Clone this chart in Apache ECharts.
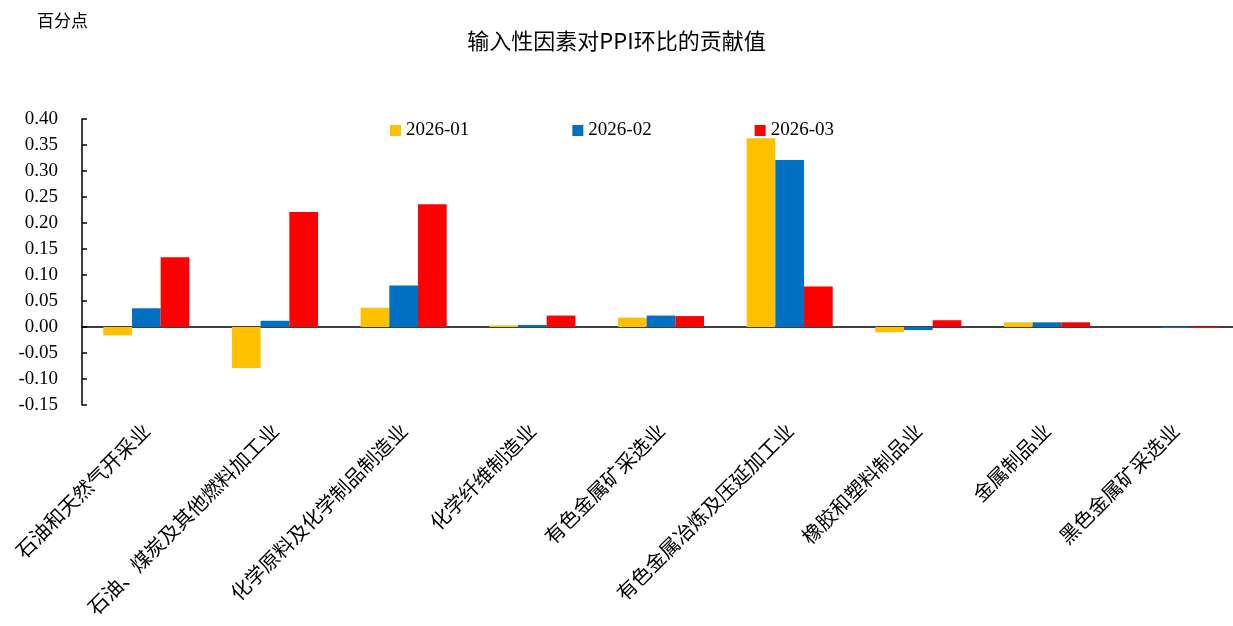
<!DOCTYPE html>
<html>
<head>
<meta charset="utf-8">
<script src="https://cdn.jsdelivr.net/npm/echarts@6/dist/echarts.min.js"></script>
<style>
  html, body { margin: 0; padding: 0; background: #fff; }
  #chart { width: 1233px; height: 626px; }
</style>
</head>
<body>
<div id="chart"></div>
<script>
const categories = ['石油和天然气开采业', '石油、煤炭及其他燃料加工业', '化学原料及化学制品制造业', '化学纤维制造业',
  '有色金属矿采选业', '有色金属冶炼及压延加工业', '橡胶和塑料制品业', '金属制品业', '黑色金属矿采选业'];
const jan = [-0.016, -0.079, 0.037, 0.003, 0.018, 0.363, -0.010, 0.009, 0.000];
const feb = [0.036, 0.012, 0.080, 0.004, 0.022, 0.321, -0.006, 0.009, -0.002];
const mar = [0.134, 0.221, 0.236, 0.022, 0.021, 0.078, 0.013, 0.009, -0.002];
const seriesNames = ['2026-01', '2026-02', '2026-03'];
const colors = ['#FFC000', '#0070C0', '#FF0000'];

const serif = '"Liberation Serif", "Times New Roman", serif';
const cjk = '"Noto Sans CJK SC", "Liberation Serif", serif';

const chart = echarts.init(document.getElementById('chart'));
const option = {
  animation: false,
  title: {
    text: '输入性因素对PPI环比的贡献值',
    left: 'center',
    top: 25,
    textStyle: { fontFamily: cjk, fontSize: 22, fontWeight: 'normal', color: '#000' }
  },
  legend: {
    top: 116,
    left: 385,
    itemGap: 103,
    itemWidth: 11,
    itemHeight: 11,
    icon: 'rect',
    textStyle: { fontFamily: serif, fontSize: 19, color: '#000' },
    data: seriesNames
  },
  graphic: [{
    type: 'text', left: 37, top: 12,
    style: { text: '百分点', font: '17px ' + cjk, fill: '#000' }
  }],
  grid: { left: 82, right: -7, top: 119, bottom: 221, outerBoundsMode: 'none' },
  xAxis: {
    type: 'category',
    data: categories,
    axisLine: { onZero: true, lineStyle: { color: '#000', width: 1.5 } },
    axisTick: { inside: true, length: 5, lineStyle: { color: '#000', width: 1.5 } },
    axisLabel: {
      rotate: 45, margin: 22, interval: 0,
      fontFamily: cjk, fontSize: 20, color: '#000'
    }
  },
  yAxis: {
    type: 'value',
    min: -0.15, max: 0.40, interval: 0.05,
    splitLine: { show: false },
    axisLine: { show: true, lineStyle: { color: '#000', width: 1.5 } },
    axisTick: { show: true, inside: true, length: 5, lineStyle: { color: '#000', width: 1.5 } },
    axisLabel: {
      margin: 24, fontFamily: serif, fontSize: 19, color: '#000',
      formatter: v => v.toFixed(2)
    }
  },
  series: [jan, feb, mar].map((d, i) => ({
    name: seriesNames[i],
    type: 'bar',
    data: d,
    barWidth: 28.7,
    barGap: '0%',
    itemStyle: { color: colors[i] }
  }))
};
chart.setOption(option);
</script>
</body>
</html>
